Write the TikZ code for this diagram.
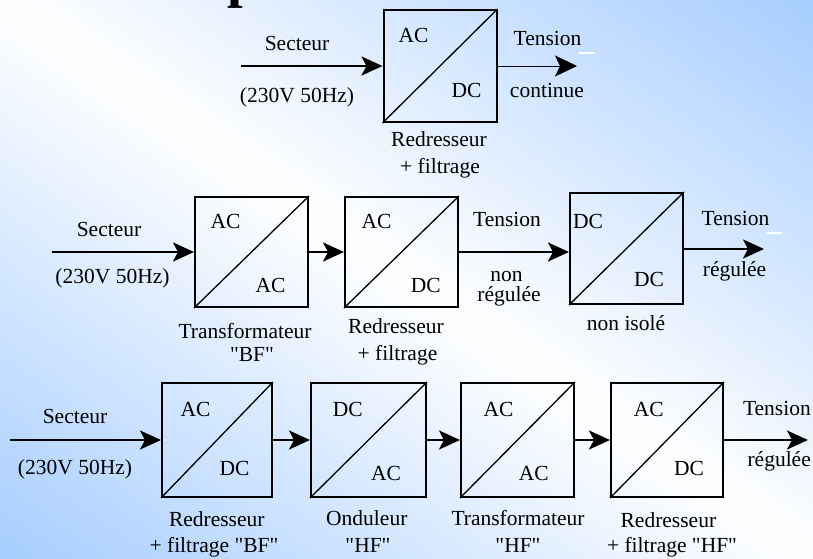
\documentclass[tikz,border=0pt]{standalone}
\usepackage{fontspec}
\setmainfont{Liberation Serif}
\usetikzlibrary{arrows.meta}
\definecolor{fondbleu}{RGB}{166,205,255}

\begin{document}
\begin{tikzpicture}[x=1pt,y=-1pt,
	every node/.style={font=\fontsize{21.5}{24}\selectfont,inner sep=0pt},
	conv/.style={draw,line width=2pt,minimum width=113pt,minimum height=111pt},
	diag/.style={line width=1.3pt},
	fleche/.style={line width=2.6pt,-{Stealth[length=21pt,width=19pt,inset=5pt]}},
	flechefine/.style={line width=1pt,-{Stealth[length=22pt,width=21pt,inset=5pt]}}]
	\useasboundingbox (0,0) rectangle (813,558);
	\begin{scope}
	\clip (0,0) rectangle (813,558);
	\begin{scope}[shift={(406.5,279)},rotate=-34.46]
		\foreach \s in {-480,-470,...,470}{
			\pgfmathsetmacro\t{min(100,abs(\s+5)/4.6)}
			\fill[fondbleu!\t!white] (-700,\s) rectangle (700,\s+11);
		}
	\end{scope}
	\node[anchor=base west,font=\fontsize{56}{56}\selectfont\bfseries] (titre) at (227,-4) {p};
	\end{scope}

	\node[conv,minimum height=112pt] (redr) at (440,66) {};
	\draw[diag] (redr.south west) -- (redr.north east);
	\node[anchor=base] (redrE) at (413.5,42) {AC};
	\node[anchor=base] (redrS) at (466.5,97) {DC};
	\coordinate (entree) at (241,66);
	\coordinate (sortie) at (577,66);
	\draw[fleche] (entree) -- (redr.west);
	\draw[flechefine] (redr.east) -- (sortie);
	\node[anchor=base] (secteur) at (297,50) {Secteur};
	\node[anchor=base] (reseau) at (297,102.5) {(230V 50Hz)};
	\node[anchor=base] (tension) at (547.5,45) {Tension};
	\draw[white,line width=1.6pt] (579,53) -- (595,53);
	\node[anchor=base] (continue) at (547,97) {continue};
	\node[anchor=base] (redrA) at (439,146.7) {Redresseur};
	\node[anchor=base] (redrB) at (440,173) {+ filtrage};

	\node[conv,minimum height=110pt] (trafo) at (251.5,252) {};
	\node[conv,minimum height=110pt] (redrbf) at (401.5,252) {};
	\node[conv] (hacheur) at (626.5,248.5) {};
	\foreach \b in {trafo,redrbf,hacheur}
		\draw[diag] (\b.south west) -- (\b.north east);
	\node[anchor=base] (trafoE) at (225.5,228.3) {AC};
	\node[anchor=base] (trafoS) at (270.5,292.7) {AC};
	\node[anchor=base] (redrbfE) at (376.5,228.3) {AC};
	\node[anchor=base] (redrbfS) at (425.8,292.7) {DC};
	\node[anchor=base] (hacheurE) at (588,228) {DC};
	\node[anchor=base] (hacheurS) at (649,286.7) {DC};
	\coordinate (entree2) at (52,252);
	\coordinate (sortie2) at (764,249);
	\draw[fleche] (entree2) -- (trafo.west);
	\draw[fleche] (trafo.east) -- (redrbf.west);
	\draw[fleche] (redrbf.east) -- (redrbf.east -| hacheur.west);
	\draw[fleche] (hacheur.east |- sortie2) -- (sortie2);
	\node[anchor=base] (secteur2) at (109,236) {Secteur};
	\node[anchor=base] (reseau2) at (112.5,283) {(230V 50Hz)};
	\node[anchor=base] (tension2) at (507,226.7) {Tension};
	\node[anchor=base] (non2) at (506.5,281.7) {non};
	\node[anchor=base] (nonreg2) at (509,301.7) {régulée};
	\node[anchor=base] (tension3) at (735.5,225) {Tension};
	\draw[white,line width=1.6pt] (767,233) -- (782,233);
	\node[anchor=base] (reg2) at (734.5,276.7) {régulée};
	\node[anchor=base] (trafoA) at (245,338) {Transformateur};
	\node[anchor=base] (trafoB) at (252,361.7) {\textquotedbl BF\textquotedbl};
	\node[anchor=base] (redrbfA) at (396,333.3) {Redresseur};
	\node[anchor=base] (redrbfB) at (397.5,360) {+ filtrage};
	\node[anchor=base] (hacheurA) at (626,330) {non isolé};

	\node[conv,minimum width=110pt,minimum height=114pt] (redrBF) at (217,440) {};
	\node[conv,minimum width=115pt,minimum height=114pt] (ondul) at (368.5,440) {};
	\node[conv,minimum width=113pt,minimum height=114pt] (trafoHF) at (517.5,440) {};
	\node[conv,minimum width=112pt,minimum height=114pt] (redrHF) at (667,440) {};
	\foreach \b in {redrBF,ondul,trafoHF,redrHF}
		\draw[diag] (\b.south west) -- (\b.north east);
	\node[anchor=base] (redrBFE) at (195.5,416.7) {AC};
	\node[anchor=base] (redrBFS) at (234.5,475) {DC};
	\node[anchor=base] (ondulE) at (347.7,416.7) {DC};
	\node[anchor=base] (ondulS) at (386,480) {AC};
	\node[anchor=base] (trafoHFE) at (498.5,416.7) {AC};
	\node[anchor=base] (trafoHFS) at (533.7,480) {AC};
	\node[anchor=base] (redrHFE) at (648.7,416.7) {AC};
	\node[anchor=base] (redrHFS) at (689,475) {DC};
	\coordinate (entree3) at (10,440);
	\coordinate (sortie3) at (808,440);
	\draw[fleche] (entree3) -- (redrBF.west);
	\draw[fleche] (redrBF.east) -- (ondul.west);
	\draw[fleche] (ondul.east) -- (trafoHF.west);
	\draw[fleche] (trafoHF.east) -- (redrHF.west);
	\draw[fleche] (redrHF.east) -- (sortie3);
	\node[anchor=base] (secteur3) at (75,423) {Secteur};
	\node[anchor=base] (reseau3) at (75,474) {(230V 50Hz)};
	\node[anchor=base east] (tension4) at (811,415) {Tension};
	\node[anchor=base east] (reg3) at (811,466.7) {régulée};
	\node[anchor=base] (redrBFA) at (216.8,526.5) {Redresseur};
	\node[anchor=base] (redrBFB) at (214,552) {+ filtrage \textquotedbl BF\textquotedbl};
	\node[anchor=base] (ondulA) at (366.8,525) {Onduleur};
	\node[anchor=base] (ondulB) at (368,552) {\textquotedbl HF\textquotedbl};
	\node[anchor=base] (trafoHFA) at (518,525) {Transformateur};
	\node[anchor=base] (trafoHFB) at (518,552) {\textquotedbl HF\textquotedbl};
	\node[anchor=base] (redrHFA) at (668.4,527) {Redresseur};
	\node[anchor=base] (redrHFB) at (672,552.5) {+ filtrage \textquotedbl HF\textquotedbl};
\end{tikzpicture}
\end{document}
